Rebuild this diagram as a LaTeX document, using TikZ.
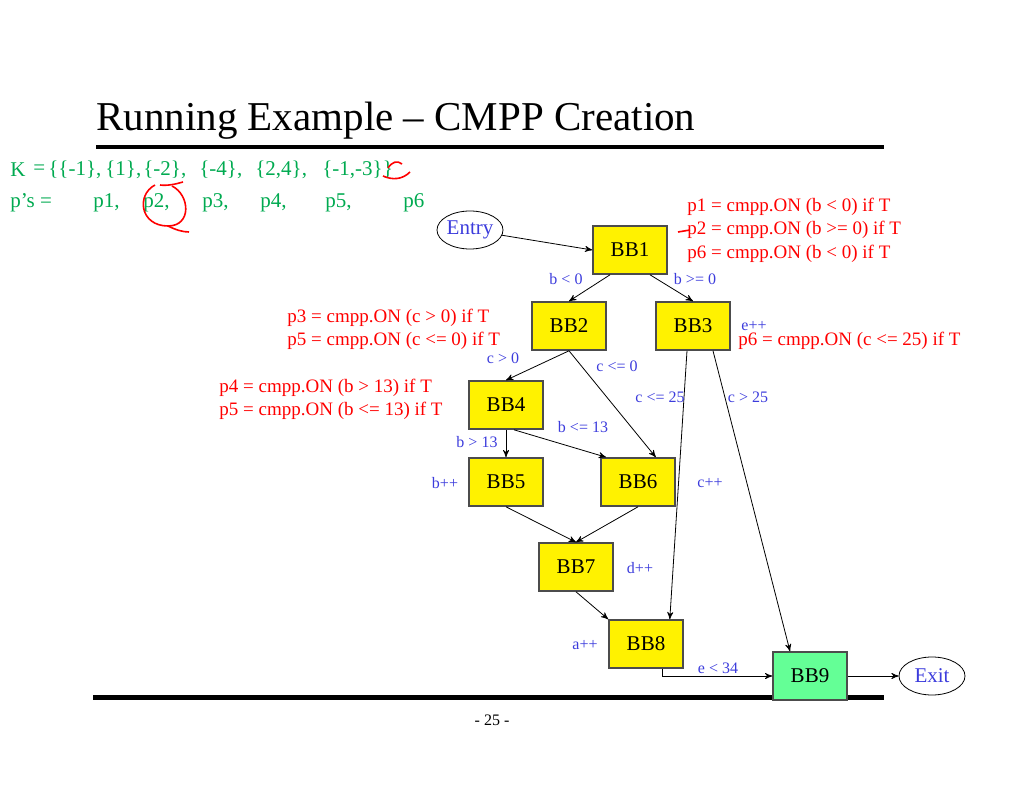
\documentclass[tikz,border=0pt]{standalone}
\usepackage{fontspec}
\setmainfont{Liberation Serif}
\usetikzlibrary{arrows, positioning, shapes.geometric}
\definecolor{kgreen}{RGB}{0,170,80}
\definecolor{lblue}{RGB}{60,60,220}
\definecolor{bbgreen}{RGB}{100,255,150}
\begin{document}
\begin{tikzpicture}[x=0.5pt,y=-0.5pt,
  bb/.style={draw=black!70, thick, fill=yellow, minimum width=37pt, minimum height=24pt, inner sep=0pt, font=\fontsize{10.5}{12}\selectfont},
  term/.style={draw, ellipse, minimum width=33pt, minimum height=19pt, inner sep=0pt, text=lblue, font=\fontsize{10.5}{12}\selectfont},
  cond/.style={text=lblue, font=\fontsize{8}{9}\selectfont, inner sep=0pt},
  note/.style={text=red, font=\fontsize{9.5}{11}\selectfont, inner sep=0pt, anchor=west},
  kitem/.style={text=kgreen, font=\fontsize{10.5}{12}\selectfont, inner sep=0pt, anchor=west},
  edge/.style={->, >=stealth'}]
\useasboundingbox (0,0) rectangle (1024,791);
\node[anchor=west, inner sep=0pt, font=\fontsize{20.5}{24}\selectfont] (title) at (96,121) {Running Example -- CMPP Creation};
\draw[line width=2pt] (96,147) -- (884,147);
\draw[line width=2.5pt] (93,697) -- (884,697);
\node[kitem] (kname) at (10,170) {K};
\foreach \x/\t in {33/{=},48/{\{\{-1\},},105/{\{1\},},143/{\{-2\},},199/{\{-4\},},255/{\{2,4\},},322/{\{-1,-3\}\}}}
  \node[kitem] at (\x,170) {\t};
\node[kitem] (ps) at (10,203) {p's =};
\foreach \x/\t in {93/{p1,},143/{p2,},202/{p3,},260/{p4,},325/{p5,},403/{p6}}
  \node[kitem] at (\x,203) {\t};
% handwritten marks
\draw[red, thick] (155,185) .. controls (136,195) and (140,226) .. (168,226) .. controls (192,226) and (190,195) .. (172,186);
\draw[red, thick] (168,226) .. controls (176,230) and (183,232) .. (189,232);
\draw[red, thick] (183,182) .. controls (176,184) and (168,186) .. (160,185);
\draw[red, thick] (383,176) .. controls (392,180) and (402,180) .. (410,172);
\draw[red, thick] (388,168) .. controls (392,162) and (397,160) .. (402,164);
\draw[red, thick] (678,232) -- (690,230);
% nodes
\node[term] (entry) at (470,230) {Entry};
\node[bb] (bb1) at (630,250) {BB1};
\node[bb] (bb2) at (569,326) {BB2};
\node[bb] (bb3) at (693,326) {BB3};
\node[bb] (bb4) at (506,405) {BB4};
\node[bb] (bb5) at (506,482) {BB5};
\node[bb] (bb6) at (638,482) {BB6};
\node[bb] (bb7) at (576,567) {BB7};
\node[bb] (bb8) at (646,644) {BB8};
\node[bb, fill=bbgreen] (bb9) at (810,676) {BB9};
\node[term] (exit) at (932,676) {Exit};
% edges
\draw[edge] (entry) -- (bb1.west);
\draw[edge] ([xshift=-10]bb1.south) -- (bb2.north);
\draw[edge] ([xshift=10]bb1.south) -- (bb3.north);
\draw[edge] (bb2.south) -- (bb4.north);
\draw[edge] (bb2.south) -- ([xshift=-10]bb6.north east);
\draw[edge] (bb4.south) -- (bb5.north);
\draw[edge] ([xshift=4]bb4.south) -- ([xshift=-16]bb6.north);
\draw[edge] ([xshift=-3]bb3.south) -- ([xshift=-7]bb8.north east);
\draw[edge] ([xshift=10]bb3.south) -- ([xshift=-10]bb9.north);
\draw[edge] (bb5.south) -- (bb7.north);
\draw[edge] (bb6.south) -- (bb7.north);
\draw[edge] (bb7.south) -- (bb8.north west);
\draw[edge] ([xshift=8]bb8.south) |- (bb9.west);
\draw[edge] (bb9) -- (exit);
% labels
\node[cond] at (566,279) {b < 0};
\node[cond] at (695,279) {b >= 0};
\node[cond] at (503,358) {c > 0};
\node[cond] at (617,366) {c <= 0};
\node[cond] at (660,397) {c <= 25};
\node[cond] at (748,397) {c > 25};
\node[cond] at (583,427) {b <= 13};
\node[cond] at (477,442) {b > 13};
\node[cond] at (445,483) {b++};
\node[cond] at (710,483) {c++};
\node[cond] at (640,568) {d++};
\node[cond] at (585,645) {a++};
\node[cond] at (718,668) {e < 34};
\node[cond] at (754,326) {e++};
\node[note] at (687,207) {p1 = cmpp.ON (b < 0) if T};
\node[note] at (687,230) {p2 = cmpp.ON (b >= 0) if T};
\node[note] at (687,254) {p6 = cmpp.ON (b < 0) if T};
\node[note] at (287,318) {p3 = cmpp.ON (c > 0) if T};
\node[note] at (287,341) {p5 = cmpp.ON (c <= 0) if T};
\node[note] at (219,388) {p4 = cmpp.ON (b > 13) if T};
\node[note] at (219,411) {p5 = cmpp.ON (b <= 13) if T};
\node[note] at (738,341) {p6 = cmpp.ON (c <= 25) if T};
\node[font=\fontsize{8}{9}\selectfont] (page) at (492,720) {- 25 -};
\end{tikzpicture}
\end{document}
